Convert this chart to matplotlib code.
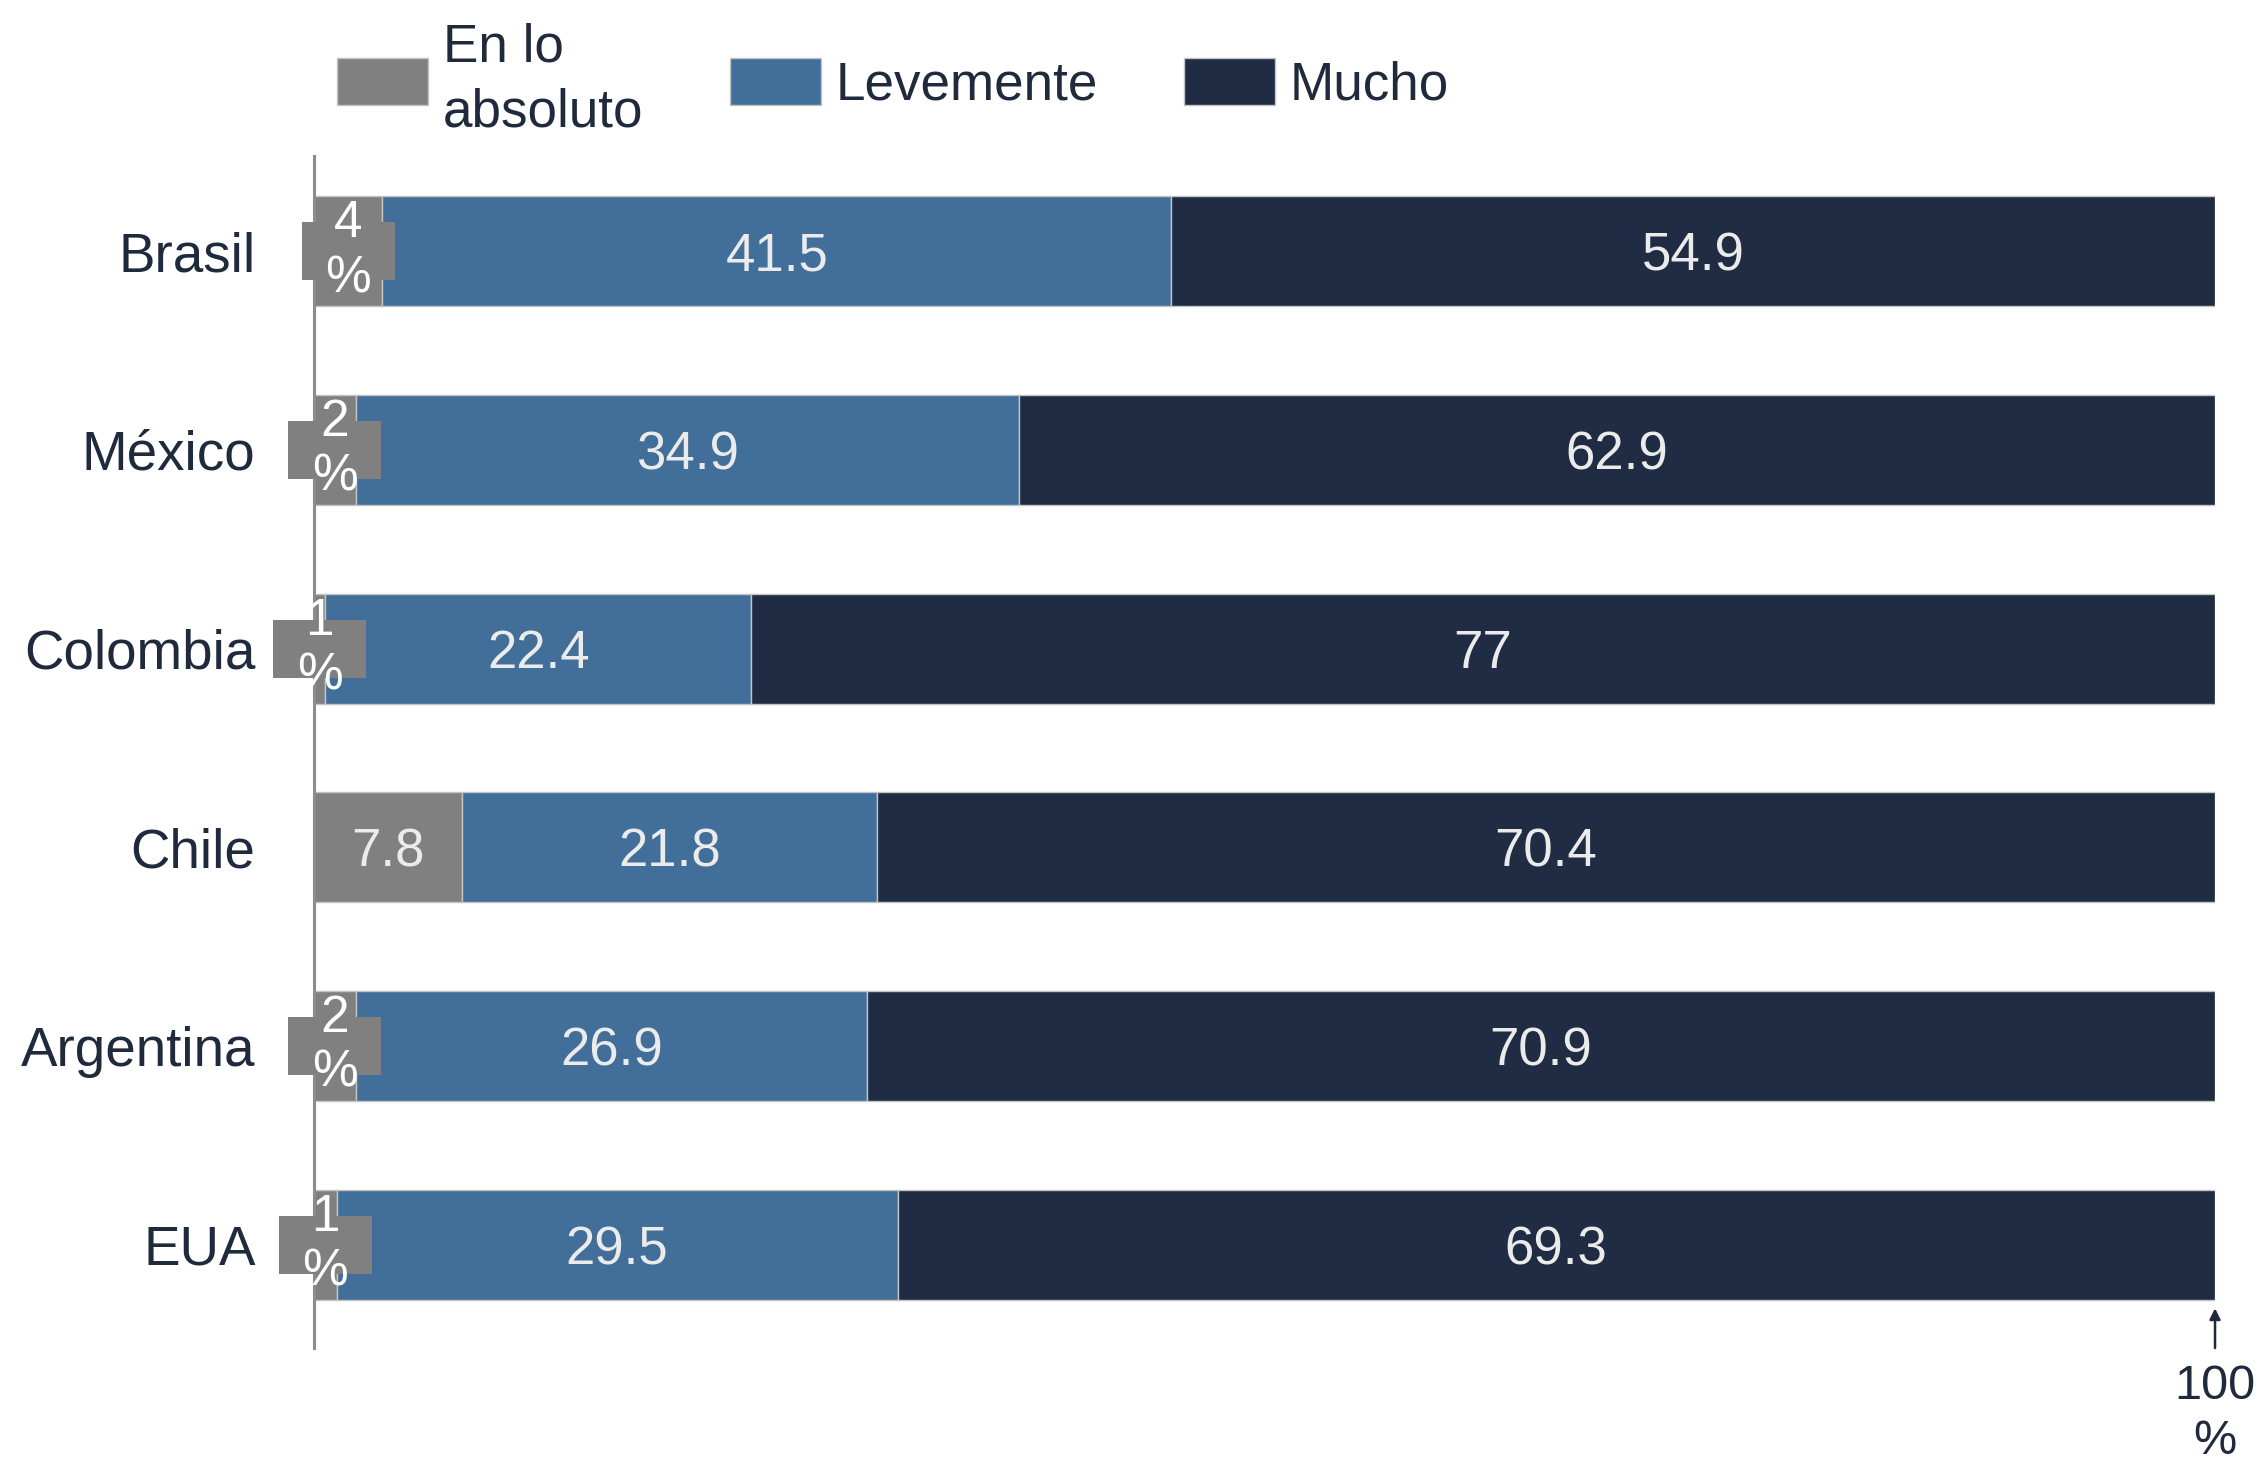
import matplotlib.pyplot as plt
from matplotlib.patches import Rectangle
from matplotlib.transforms import ScaledTranslation

plt.rcParams['font.family'] = ['Liberation Sans', 'DejaVu Sans']

countries = ['Brasil', 'México', 'Colombia', 'Chile', 'Argentina', 'EUA']
en_lo_absoluto = [3.6, 2.2, 0.6, 7.8, 2.2, 1.2]
levemente = [41.5, 34.9, 22.4, 21.8, 26.9, 29.5]
mucho = [54.9, 62.9, 77, 70.4, 70.9, 69.3]
gray_labels = ['4\n%', '2\n%', '1\n%', '7.8', '2\n%', '1\n%']
series_names = ['En lo\nabsoluto', 'Levemente', 'Mucho']

c_gray = '#808080'
c_blue = '#426f99'
c_dark = '#1f2c44'
c_text = '#1f2a3c'

fig = plt.figure(figsize=(11.3, 7.335), dpi=200)
ax = fig.add_axes([0.1389, 0.0811, 0.8412, 0.8126])

y = list(range(len(countries)))
h = 0.554
left2 = [a + b for a, b in zip(en_lo_absoluto, levemente)]

b1 = ax.barh(y, en_lo_absoluto, height=h, color=c_gray, edgecolor='#c4c4c4', linewidth=0.5)
b2 = ax.barh(y, levemente, left=en_lo_absoluto, height=h, color=c_blue, edgecolor='#c4c4c4', linewidth=0.5)
b3 = ax.barh(y, mucho, left=left2, height=h, color=c_dark, edgecolor='#c4c4c4', linewidth=0.5)

# value labels
for i in y:
    ax.text(en_lo_absoluto[i] + levemente[i] / 2, i, f'{levemente[i]:g}', ha='center',
            va='center_baseline', color='#ebebeb', fontsize=19)
    ax.text(left2[i] + mucho[i] / 2, i, f'{mucho[i]:g}', ha='center',
            va='center_baseline', color='#ebebeb', fontsize=19)
    xc = en_lo_absoluto[i] / 2
    if '%' in gray_labels[i]:
        trans = fig.dpi_scale_trans + ScaledTranslation(xc, i, ax.transData)
        ax.add_patch(Rectangle((-0.2325, -0.145), 0.465, 0.29, transform=trans,
                               facecolor=c_gray, edgecolor='none', zorder=4, clip_on=False))
        ax.text(xc, i, gray_labels[i], ha='center', va='center', color='white',
                fontsize=18.5, linespacing=1.15, zorder=5, clip_on=False)
    else:
        ax.text(xc, i, gray_labels[i], ha='center', va='center_baseline', color='#ebebeb',
                fontsize=19)

ax.set_xlim(0, 100)
ax.set_ylim(5.52, -0.48)
ax.set_yticks(y)
ax.set_yticklabels(countries, fontsize=19.7, color=c_text)
ax.tick_params(axis='y', length=0, pad=21)
ax.set_xticks([])
for s in ['top', 'right', 'bottom']:
    ax.spines[s].set_visible(False)
ax.spines['left'].set_color('#8c8c8c')
ax.spines['left'].set_linewidth(1.1)

# 100 % marker
ax.annotate('', xy=(100, 5.32), xytext=(100, 5.52), annotation_clip=False,
            arrowprops=dict(arrowstyle='-|>', color=c_text, lw=0.9, mutation_scale=8,
                            shrinkA=0, shrinkB=0))
ax.text(100, 5.6, '100\n%', ha='center', va='top', fontsize=17.5, color=c_text,
        linespacing=1.3, clip_on=False)

fig.legend([b1, b2, b3], series_names, loc='center left',
           bbox_to_anchor=(337 / 2260, 1 - 80 / 1467), ncol=3, frameon=False,
           fontsize=19.1, handlelength=1.72, handleheight=1.0, handletextpad=0.28,
           columnspacing=1.62, borderpad=0, borderaxespad=0, labelcolor=c_text,
           labelspacing=0.5)
for t in fig.legends[0].get_texts():
    t.set_linespacing(1.4)

fig.savefig('out.png', dpi=200)
